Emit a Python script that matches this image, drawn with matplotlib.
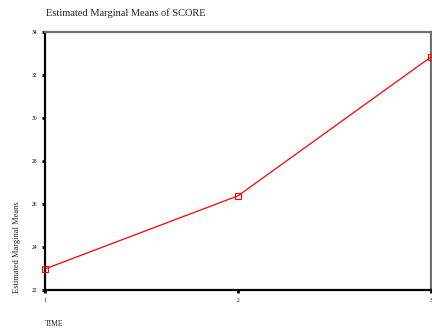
import matplotlib
matplotlib.use("Agg")
import matplotlib.pyplot as plt

time = [1, 2, 3]
score = [22.98, 26.38, 32.84]
yticks = [22, 24, 26, 28, 30, 32, 34]

plt.rcParams['font.family'] = ['Liberation Serif', 'DejaVu Serif']

fig = plt.figure(figsize=(4.32, 3.36), dpi=100)
ax = fig.add_axes([45/432, 1-290/336, 386/432, 258/336])
ax.plot(time, score, color='red', lw=0.9, marker='s', markersize=5,
        markerfacecolor='none', markeredgecolor='red', markeredgewidth=0.8,
        clip_on=False, zorder=3)
ax.set_xlim(1, 3)
ax.set_ylim(22, 34)
ax.set_xticks(time)
ax.set_xticklabels([str(t) for t in time])
ax.set_yticks(yticks)
ax.set_yticklabels([str(t) for t in yticks])
ax.tick_params(labelsize=4, length=2.5, width=2, color='black', pad=3)
for s in ['left', 'bottom']:
    ax.spines[s].set_color('black')
    ax.spines[s].set_linewidth(1.6)
for s in ['top', 'right']:
    ax.spines[s].set_color('#707070')
    ax.spines[s].set_linewidth(1.6)

fig.text(46/432, 1-13/336, 'Estimated Marginal Means of SCORE', fontsize=7.5,
         ha='left', va='center', color='#222222')
fig.text(45/432, 1-324/336, 'TIME', fontsize=5.5, ha='left', va='center',
         color='#222222')
fig.text(17/432, 1-293/336, 'Estimated Marginal Means', fontsize=6,
         rotation=90, ha='center', va='bottom', color='#222222')

fig.savefig('out.png', dpi=100)
